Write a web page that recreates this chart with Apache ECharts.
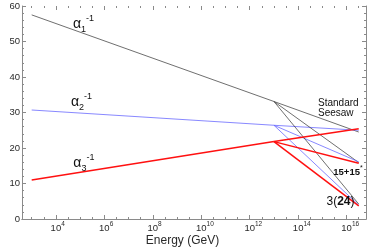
<!DOCTYPE html>
<html><head><meta charset="utf-8">
<script src="https://cdn.jsdelivr.net/npm/echarts@6/dist/echarts.min.js"></script>
<style>html,body{margin:0;padding:0;background:#fff}#c{width:374px;height:251px}</style>
</head><body><div id="c"></div>
<script>
// x values are log10(Energy / GeV)
const mainLogE = [3, 13];
const branchLogE = [13, 16.5];
// inverse gauge couplings at 10^3 and 10^13 GeV
const alpha1Inv = [57.5, 33.1];
const alpha2Inv = [30.7, 26.4];
const alpha3Inv = [11.0, 21.8];
// end values at 10^16.5 GeV for [alpha1^-1, alpha2^-1, alpha3^-1]
const seesawEnd = [24.5, 25.0, 25.4];
const fifteenEnd = [15.9, 16.1, 15.7];
const twentyFourEnd = [4.2, 3.9, 3.7];
const xTickExponents = [4, 6, 8, 10, 12, 14, 16];
const yTickValues = [0, 10, 20, 30, 40, 50, 60];

const FONT = 'Liberation Sans, Arial, sans-serif';
const colors = ['#4a4a4a', '#6a6aff', '#ff1010'];
const widths = [0.8, 0.8, 1.5];
const mains = [alpha1Inv, alpha2Inv, alpha3Inv];
const axisColor = '#8a8a8a';
const labelColor = '#2a2a2a';

function seg(xs, ys, i) {
  return { type: 'line', xAxisIndex: 0, yAxisIndex: 0, data: xs.map((x, k) => [x, ys[k]]),
    symbol: 'none', silent: true, z: i === 2 ? 4 : 3,
    lineStyle: { color: colors[i], width: widths[i] } };
}
const series = [];
[seesawEnd, fifteenEnd, twentyFourEnd].forEach(ends => {
  for (let i = 0; i < 3; i++) series.push(seg(branchLogE, [mains[i][1], ends[i]], i));
});
for (let i = 0; i < 3; i++) series.push(seg(mainLogE, mains[i], i));

const xMin = 2.6, xMax = 16.8, L = 22, R = 8, T = 6, B = 32;
const pxPerDec = (374 - L - R) / (xMax - xMin);

function baseX(gi, pos, min, interval, tickLen, labels) {
  return {
    type: 'value', gridIndex: gi, position: pos, min: min, max: xMax, interval: interval,
    axisLine: { show: false },
    axisTick: { show: true, inside: true, length: tickLen, lineStyle: { color: axisColor, width: 1 } },
    splitLine: { show: false },
    axisLabel: labels ? {
      show: true, margin: 2, color: labelColor, fontFamily: FONT,
      showMinLabel: true, showMaxLabel: false,
      formatter: v => {
        const r = Math.round(v);
        if (Math.abs(v - r) > 1e-6 || !xTickExponents.includes(r)) return '';
        const e = String(r);
        return '{p' + e.length + '| }{b|10}{s|' + e + '}';
      },
      rich: {
        b: { fontSize: 9.5, lineHeight: 14, color: labelColor, fontFamily: FONT },
        s: { fontSize: 6.5, lineHeight: 8, verticalAlign: 'top', color: labelColor, fontFamily: FONT },
        p1: { width: 3.6, fontSize: 6.5 }, p2: { width: 7.2, fontSize: 6.5 }
      }
    } : { show: false }
  };
}
const hiddenY = gi => ({ type: 'value', gridIndex: gi, min: 0, max: 60, show: false });

const option = {
  animation: false,
  backgroundColor: '#fff',
  grid: [
    { left: L, right: R, top: T, bottom: B },
    { left: L + (xTickExponents[0] - xMin) * pxPerDec, right: R, top: T, bottom: B },
    { left: L + (3 - xMin) * pxPerDec, right: R, top: T, bottom: B }
  ],
  xAxis: [
    { type: 'value', gridIndex: 0, position: 'bottom', min: xMin, max: xMax,
      axisLine: { show: true, lineStyle: { color: axisColor, width: 1 } },
      axisTick: { show: false }, axisLabel: { show: false }, splitLine: { show: false } },
    { type: 'value', gridIndex: 0, position: 'top', min: xMin, max: xMax,
      axisLine: { show: true, lineStyle: { color: axisColor, width: 1 } },
      axisTick: { show: false }, axisLabel: { show: false }, splitLine: { show: false } },
    baseX(1, 'bottom', xTickExponents[0], 2, 4, true),
    baseX(1, 'top', xTickExponents[0], 2, 4, false),
    baseX(2, 'bottom', 3, 0.5, 2, false),
    baseX(2, 'top', 3, 0.5, 2, false)
  ],
  yAxis: [
    { type: 'value', gridIndex: 0, position: 'left', min: yTickValues[0], max: yTickValues[yTickValues.length - 1], interval: 10,
      axisLine: { show: true, lineStyle: { color: axisColor, width: 1 } },
      axisTick: { show: true, inside: true, length: 4, lineStyle: { color: axisColor } },
      minorTick: { show: true, splitNumber: 5, length: 2, lineStyle: { color: axisColor } },
      splitLine: { show: false },
      axisLabel: { show: true, margin: 2, fontSize: 9.5, color: labelColor, fontFamily: FONT } },
    { type: 'value', gridIndex: 0, position: 'right', min: 0, max: 60, interval: 10,
      axisLine: { show: true, lineStyle: { color: axisColor, width: 1 } },
      axisTick: { show: true, inside: true, length: 4, lineStyle: { color: axisColor } },
      minorTick: { show: true, splitNumber: 5, length: 2, lineStyle: { color: axisColor } },
      splitLine: { show: false }, axisLabel: { show: false } },
    hiddenY(1), hiddenY(2)
  ],
  series: series,
  graphic: (() => {
    const alphaRich = {
      a: { fontSize: 14, lineHeight: 20, fill: '#111', fontFamily: FONT },
      sb: { fontSize: 9, lineHeight: 11, verticalAlign: 'bottom', fill: '#111', fontFamily: FONT },
      sp: { fontSize: 9, lineHeight: 11, verticalAlign: 'top', fill: '#111', fontFamily: FONT }
    };
    const alphaLabel = (n, x, y) => ({ type: 'text', x: x, y: y, silent: true, z: 10,
      style: { text: '{a|α}{sb|' + n + '}{sp|-1}', rich: alphaRich, align: 'left', verticalAlign: 'middle' } });
    return [
      alphaLabel(1, 73, 24),
      alphaLabel(2, 71, 101.7),
      alphaLabel(3, 73.3, 163.5),
      { type: 'text', x: 318, y: 108.3, silent: true, z: 10,
        style: { text: 'Standard\nSeesaw', fontSize: 10, lineHeight: 10.5, fill: '#111', fontFamily: FONT, align: 'left', verticalAlign: 'middle' } },
      { type: 'text', x: 333.3, y: 172, silent: true, z: 10,
        style: { text: '{b|15+15}{s|*}', align: 'left', verticalAlign: 'middle',
          rich: { b: { fontSize: 9.5, fontWeight: 'bold', lineHeight: 14, fill: '#111', fontFamily: FONT },
                  s: { fontSize: 7, lineHeight: 8, verticalAlign: 'top', fill: '#111', fontFamily: FONT } } } },
      { type: 'text', x: 326.5, y: 201.5, silent: true, z: 10,
        style: { text: '{n|3(}{b|24}{n|)}', align: 'left', verticalAlign: 'middle',
          rich: { n: { fontSize: 12, fill: '#111', fontFamily: FONT },
                  b: { fontSize: 12, fontWeight: 'bold', fill: '#111', fontFamily: FONT } } } },
      { type: 'text', x: 182.5, y: 241, silent: true, z: 10,
        style: { text: 'Energy (GeV)', fontSize: 12, fill: labelColor, fontFamily: FONT, align: 'center', verticalAlign: 'middle' } }
    ];
  })()
};
const chart = echarts.init(document.getElementById('c'), null, { renderer: 'canvas' });
chart.setOption(option);
</script></body></html>
